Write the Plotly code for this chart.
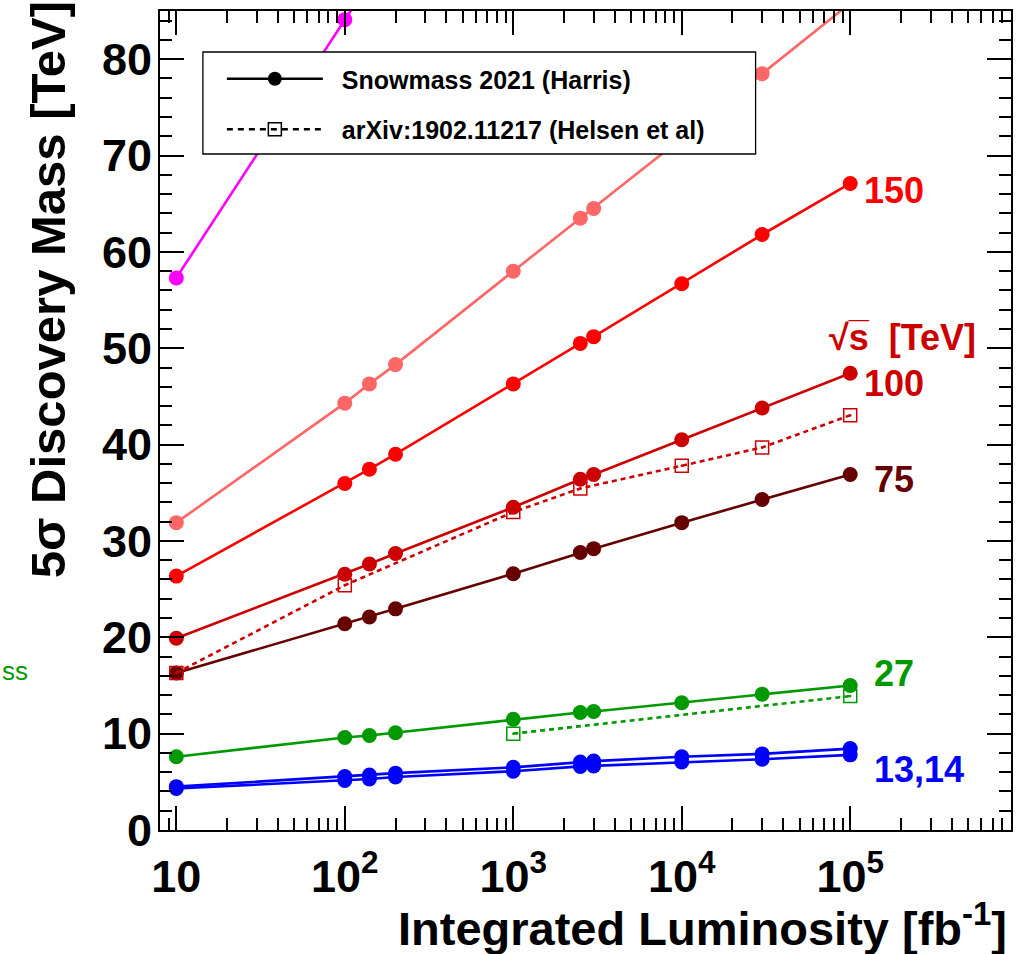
import plotly.graph_objects as go

# ---------------- data ----------------
lumi = [10, 100, 140, 200, 1000, 2500, 3000, 10000, 30000, 100000]
mass_13 = [4.3, 5.15, 5.3, 5.5, 6.1, 6.6, 6.65, 7.05, 7.35, 7.8]
mass_14 = [4.5, 5.55, 5.7, 5.9, 6.5, 7.05, 7.15, 7.6, 7.9, 8.45]
mass_27 = [7.6, 9.6, 9.8, 10.1, 11.5, 12.2, 12.3, 13.2, 14.1, 15.0]
mass_75 = [16.3, 21.4, 22.1, 22.95, 26.6, 28.8, 29.2, 31.9, 34.3, 36.9]
mass_100 = [19.9, 26.55, 27.6, 28.7, 33.5, 36.4, 36.9, 40.5, 43.8, 47.4]
mass_150 = [26.35, 35.96, 37.45, 39.0, 46.3, 50.5, 51.2, 56.7, 61.8, 67.1]
mass_200 = [31.9, 44.3, 46.3, 48.3, 58.0, 63.5, 64.5, 71.8, 78.5, 85.8]

lumi_300 = [10, 100, 140]
mass_300 = [57.3, 84.1, 88.0]

lumi_h100 = [10, 100, 1000, 2500, 10000, 30000, 100000]
mass_h100 = [16.3, 25.4, 33.0, 35.45, 37.8, 39.7, 43.05]
lumi_h27 = [1000, 100000]
mass_h27 = [10.0, 13.9]

xtick_vals = [10, 100, 1000, 10000, 100000]
xtick_text = ["<b>10</b>", "<b>10<sup>2</sup></b>", "<b>10<sup>3</sup></b>",
              "<b>10<sup>4</sup></b>", "<b>10<sup>5</sup></b>"]
xminor_vals = [m * 10 ** e for e in range(0, 6) for m in range(2, 10)]

C_MAG = "#ff00ff"
C_200 = "#ff6666"
C_150 = "#ff0000"
C_100 = "#cc0000"
C_75 = "#660000"
C_27 = "#009900"
C_13 = "#0000ff"

FONT = "Liberation Sans, Arial, Helvetica, sans-serif"

# ---------------- layout geometry helpers ----------------
W, H = 1017, 954
L, R, T, B = 160, 4, 11, 124
PW, PH = W - L - R, H - T - B


def px(x):
    return (x - L) / PW


def py(y):
    return (H - B - y) / PH


fig = go.Figure()

LW = 2.6
MS = 15
SQ = 13


def solid(x, y, color):
    fig.add_trace(go.Scatter(x=x, y=y, mode="lines+markers", showlegend=False,
                             line=dict(color=color, width=LW),
                             marker=dict(color=color, size=MS, symbol="circle"),
                             hoverinfo="x+y"))


def dashed(x, y, color):
    fig.add_trace(go.Scatter(x=x, y=y, mode="lines+markers", showlegend=False,
                             line=dict(color=color, width=LW, dash="5px,4px"),
                             marker=dict(color=color, size=SQ, symbol="square-open-dot",
                                         line=dict(color=color, width=1.5)),
                             hoverinfo="x+y"))


solid(lumi, mass_13, C_13)
solid(lumi, mass_14, C_13)
solid(lumi, mass_27, C_27)
dashed(lumi_h27, mass_h27, C_27)
solid(lumi, mass_75, C_75)
dashed(lumi_h100, mass_h100, C_100)
solid(lumi, mass_100, C_100)
solid(lumi, mass_150, C_150)
solid(lumi, mass_200, C_200)
solid(lumi_300, mass_300, C_MAG)

NB = "\u00a0\u00a0"
# legend entries (black representative styles)
fig.add_trace(go.Scatter(x=[None], y=[None], mode="lines+markers",
                         name=NB + "<b>Snowmass 2021 (Harris)</b>",
                         line=dict(color="black", width=LW),
                         marker=dict(color="black", size=14, symbol="circle"),
                         legendgroup="a"))
fig.add_trace(go.Scatter(x=[None], y=[None], mode="lines+markers",
                         name=NB + "<b>arXiv:1902.11217 (Helsen et al)</b>",
                         line=dict(color="black", width=LW, dash="6px,5px"),
                         marker=dict(color="black", size=13, symbol="square-open-dot",
                                     line=dict(color="black", width=1.5)),
                         legendgroup="b"))

# legend frame
fig.add_shape(type="rect", xref="paper", yref="paper",
              x0=px(203), x1=px(757), y0=py(154), y1=py(52),
              fillcolor="white", line=dict(color="black", width=1.3), layer="above")

ann = []


def label(text, x, y, color, size, anchor="left"):
    ann.append(dict(text=text, xref="paper", yref="paper", x=px(x), y=py(y),
                    xanchor=anchor, yanchor="middle", showarrow=False, borderpad=0,
                    font=dict(family=FONT, size=size, color=color)))


label("<b>150</b>", 865, 190, C_150, 36)
label("<b>√s̅  [TeV]</b>", 830, 337, C_100, 36)
label("<b>100</b>", 865, 383, C_100, 36)
label("<b>75</b>", 875, 480, C_75, 36)
label("<b>27</b>", 875, 673, C_27, 36)
label("<b>13,14</b>", 875, 769, C_13, 36)
label("ss", 29, 671, C_27, 26, anchor="right")

ann.append(dict(text="<b>Integrated Luminosity [fb<sup>-1</sup>]</b>", xref="paper", yref="paper",
                x=px(1011), y=py(925), xanchor="right", yanchor="middle", showarrow=False,
                font=dict(family=FONT, size=47, color="black")))
ann.append(dict(text="<b>5σ Discovery Mass [TeV]</b>", xref="paper", yref="paper",
                x=px(48), y=py(290), xanchor="center", yanchor="middle", showarrow=False,
                textangle=-90, font=dict(family=FONT, size=49, color="black")))

fig.update_layout(
    width=W, height=H,
    margin=dict(l=L, r=R, t=T, b=B, pad=0),
    paper_bgcolor="white", plot_bgcolor="white",
    font=dict(family=FONT, color="black"),
    annotations=ann,
    legend=dict(x=px(222), y=py(56), xanchor="left", yanchor="top",
                bgcolor="rgba(0,0,0,0)", borderwidth=0,
                font=dict(family=FONT, size=25, color="black"),
                itemwidth=96, tracegroupgap=15, itemclick=False),
    xaxis=dict(type="log", range=[0.90309, 5.95424],
               tickmode="array", tickvals=xtick_vals, ticktext=xtick_text,
               tickfont=dict(family=FONT, size=45, color="black"),
               ticks="inside", ticklen=24, tickwidth=1.5, tickcolor="black",
               showline=True, linewidth=2, linecolor="black", mirror="ticks",
               showgrid=False, zeroline=False, ticklabelstandoff=6,
               minor=dict(tickmode="array", tickvals=xminor_vals, ticks="inside",
                          ticklen=12, tickwidth=1.5, tickcolor="black", showgrid=False)),
    yaxis=dict(range=[0, 85], tickmode="linear", tick0=0, dtick=10,
               tickfont=dict(family=FONT, size=45, color="black", weight="bold"),
               ticks="inside", ticklen=24, tickwidth=1.5, tickcolor="black",
               showline=True, linewidth=2, linecolor="black", mirror="ticks",
               showgrid=False, zeroline=False, ticklabelstandoff=-3,
               minor=dict(dtick=2, ticks="inside", ticklen=12, tickwidth=1.5,
                          tickcolor="black", showgrid=False)),
)

fig.write_html("out.html")
